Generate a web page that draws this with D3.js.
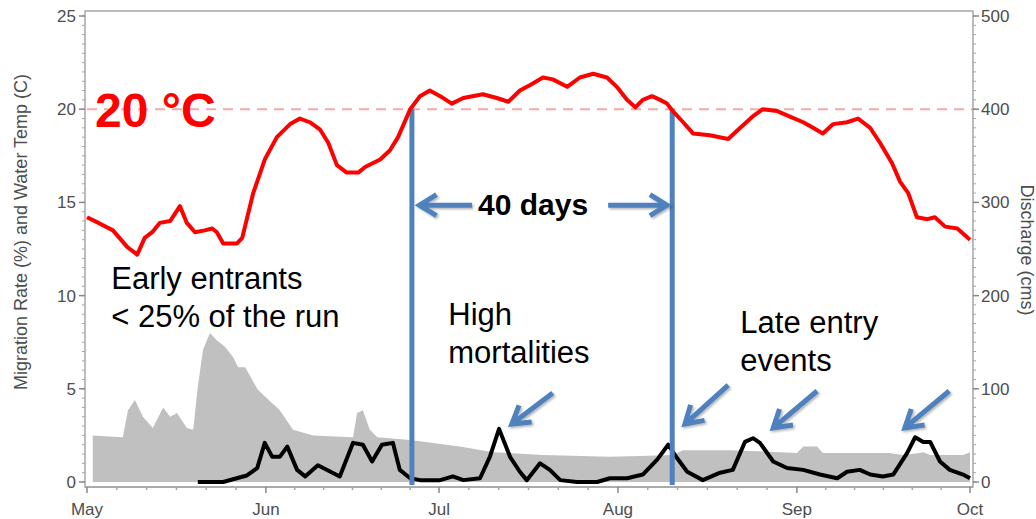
<!DOCTYPE html>
<html>
<head>
<meta charset="utf-8">
<script src="https://cdn.jsdelivr.net/npm/d3@7"></script>
<style>
  html, body { margin: 0; padding: 0; background: #fff; }
  svg { display: block; font-family: "Liberation Sans", Arial, sans-serif; }
</style>
</head>
<body>
<svg id="chart" width="1036" height="519"></svg>
<script>
// Season runs from 1 May to 1 October; days are counted from 1 May.
const seasonStart = Date.UTC(2015, 4, 1);
const seasonEnd = Date.UTC(2015, 9, 1);
const monthLabels = ["May", "Jun", "Jul", "Aug", "Sep", "Oct"];
const leftTicks = [0, 5, 10, 15, 20, 25];
const rightTicks = [0, 100, 200, 300, 400, 500];

// Water temperature (C)
const tempDay = [0,2,4.5,7,8.7,10,11.3,12.6,14.4,16.1,17.3,18.7,20.4,21.7,22.5,23.6,26,26.9,28.8,30.8,32.9,35.2,36.9,38.6,40.4,41.8,43.3,45,47,48.2,50.8,52.5,53.9,56,57.7,59.4,61.2,63.2,65.2,68.6,71,73,75,76.8,79,80.7,83.2,85.4,87.7,90.1,91.8,93.6,95,96.3,97.9,99.3,100.5,101.5,103.3,105,107.9,111.1,113.2,115.3,117.1,119.6,121.8,124.1,125.8,127.5,129.3,131.7,133.6,135.7,137.4,139.5,140.9,142.3,143.8,145.6,146.9,148.7,150.8,153];
const tempC = [14.2,13.9,13.5,12.6,12.2,13.1,13.4,13.9,14.0,14.8,13.9,13.4,13.5,13.6,13.4,12.8,12.8,13.1,15.5,17.3,18.5,19.2,19.5,19.3,18.9,18.2,17.0,16.6,16.6,16.9,17.3,17.8,18.5,20.0,20.7,21.0,20.7,20.3,20.6,20.8,20.6,20.4,21.0,21.3,21.7,21.6,21.2,21.7,21.9,21.7,21.2,20.5,20.1,20.5,20.7,20.5,20.3,19.9,19.3,18.7,18.6,18.4,19.0,19.6,20.0,19.9,19.6,19.3,19.0,18.7,19.2,19.3,19.5,19.0,18.2,17.1,16.1,15.5,14.2,14.1,14.2,13.7,13.6,13.0];

// River discharge (cms)
const flowDay = [1,6.2,7.1,8.3,9.7,11.4,13.2,14.4,15.6,17.3,18.4,19.2,20.1,21.3,22.5,23.9,25.3,26.2,27.4,29.6,33.4,35.7,39.2,46.1,46.8,47.8,49.0,50.3,56.0,64.6,70.4,79.0,90.6,95.8,101.5,103.3,111.4,120.1,123.0,124.1,126.5,127.5,134.5,139.1,141.4,144.3,144.9,146.1,151.8,153];
const flowCms = [50,48,77,88,70,58,80,70,74,58,56,102,142,160,152,145,134,123,123,99,77,56,50,48,74,77,56,48,45,38,32,29,27,28,29,34,34,32,31,38,38,31,31,31,29,31,32,29,29,32];

// Daily migration rate (% of run)
const migDay = [19.2,23.6,25.3,27.7,29.5,30.8,32.1,33.4,34.7,36.4,37.8,40.0,43.8,46.1,47.8,49.4,51.1,53.0,54.2,56.0,57.7,61.2,63.4,65.2,68.1,69.8,71.4,73.3,75.0,76.2,78.5,80.2,82.0,84.9,88.4,90.6,93.6,96.3,98.8,100.7,102.2,104.0,106.7,109.7,111.9,114.0,115.4,116.6,118.9,121.3,124.1,127.0,130.0,131.7,133.9,135.7,137.9,139.7,142.1,143.5,144.9,146.1,147.8,149.5,151.8,153];
const migPct = [0,0,0.15,0.35,0.75,2.1,1.35,1.35,1.9,0.65,0.3,0.9,0.3,2.1,2.0,1.1,2.0,2.1,0.65,0.2,0.1,0.1,0.3,0.1,0.2,1.35,2.85,1.35,0.55,0.1,1.0,0.65,0.1,0,0,0.2,0.2,0.4,1.2,2.0,1.3,0.55,0.1,0.5,0.65,2.15,2.35,2.1,1.1,0.75,0.65,0.4,0.2,0.55,0.65,0.4,0.3,0.4,1.55,2.4,2.15,2.15,1.1,0.65,0.4,0.2];

// Threshold temperature and the window spent above it (day offsets)
const thresholdC = 20;
const warmWindow = [56.3, 101.4];

const dayToDate = d => new Date(seasonStart + d * 864e5);

const svg = d3.select("#chart");
const x = d3.scaleUtc().domain([new Date(seasonStart), new Date(seasonEnd)]).range([87, 970]);
const yL = d3.scaleLinear().domain([0, 25]).range([482, 16]);
const yR = d3.scaleLinear().domain([0, 500]).range([482, 16]);
const X = d => x(dayToDate(d));

const frame = { left: 85, right: 973, top: 11, bottom: 487 };
const axisGrey = "#a6a6a6";
const labelGrey = "#4d4d4d";
const blue = "#4f81bd";

// drop shadow for the blue annotation shapes
const defs = svg.append("defs");
const shadow = defs.append("filter").attr("id", "shadow").attr("x", "-20%").attr("y", "-20%").attr("width", "140%").attr("height", "140%");
shadow.append("feDropShadow").attr("dx", 1.5).attr("dy", 1.5).attr("stdDeviation", 1.2).attr("flood-color", "#000").attr("flood-opacity", 0.3);

// discharge area (right axis)
const flow = d3.zip(flowDay, flowCms);
svg.append("path")
  .datum(flow)
  .attr("fill", "#c0c0c0")
  .attr("d", d3.area().x(d => X(d[0])).y0(yR(0)).y1(d => yR(d[1])));

// 20 C reference line
svg.append("line")
  .attr("x1", frame.left + 2).attr("x2", frame.right)
  .attr("y1", yL(thresholdC)).attr("y2", yL(thresholdC))
  .attr("stroke", "#f8a8a8").attr("stroke-width", 2)
  .attr("stroke-dasharray", "10,7");

// migration rate line
const mig = d3.zip(migDay, migPct);
svg.append("path")
  .datum(mig)
  .attr("fill", "none").attr("stroke", "#000").attr("stroke-width", 4)
  .attr("stroke-linejoin", "round")
  .attr("d", d3.line().x(d => X(d[0])).y(d => yL(d[1])));

// window above threshold
svg.append("g").selectAll("line").data(warmWindow).join("line")
  .attr("x1", d => X(d)).attr("x2", d => X(d))
  .attr("y1", yL(thresholdC)).attr("y2", yL(0) + 3)
  .attr("stroke", blue).attr("stroke-width", 5);

// temperature line
const temp = d3.zip(tempDay, tempC);
svg.append("path")
  .datum(temp)
  .attr("fill", "none").attr("stroke", "#ff0000").attr("stroke-width", 4)
  .attr("stroke-linejoin", "round")
  .attr("d", d3.line().x(d => X(d[0])).y(d => yL(d[1])));

// frame
svg.append("path")
  .attr("fill", "none").attr("stroke", axisGrey).attr("stroke-width", 1.5)
  .attr("d", `M${frame.left},${frame.bottom}V${frame.top}H${frame.right}V${frame.bottom}Z`);

// left axis ticks
const gL = svg.append("g").attr("transform", `translate(${frame.left},0)`);
gL.selectAll(".minor").data(d3.range(0, 25.01, 0.5)).join("line")
  .attr("x1", 0).attr("x2", -3).attr("y1", d => yL(d)).attr("y2", d => yL(d))
  .attr("stroke", axisGrey).attr("stroke-width", 1);
gL.selectAll(".major").data(leftTicks).join("line")
  .attr("x1", 0).attr("x2", -6).attr("y1", d => yL(d)).attr("y2", d => yL(d))
  .attr("stroke", "#888").attr("stroke-width", 1.5);
gL.selectAll("text").data(leftTicks).join("text")
  .attr("x", -9).attr("y", d => yL(d)).attr("dy", "0.35em")
  .attr("text-anchor", "end").attr("font-size", 17).attr("fill", labelGrey)
  .text(d => d);

// right axis ticks
const gR = svg.append("g").attr("transform", `translate(${frame.right},0)`);
gR.selectAll(".minor").data(d3.range(0, 500.1, 10)).join("line")
  .attr("x1", 0).attr("x2", 3).attr("y1", d => yR(d)).attr("y2", d => yR(d))
  .attr("stroke", axisGrey).attr("stroke-width", 1);
gR.selectAll(".major").data(rightTicks).join("line")
  .attr("x1", 0).attr("x2", 6).attr("y1", d => yR(d)).attr("y2", d => yR(d))
  .attr("stroke", "#888").attr("stroke-width", 1.5);
gR.selectAll("text").data(rightTicks).join("text")
  .attr("x", 8).attr("y", d => yR(d)).attr("dy", "0.35em")
  .attr("text-anchor", "start").attr("font-size", 17).attr("fill", labelGrey)
  .text(d => d);

// bottom axis
const months = d3.utcMonth.range(new Date(seasonStart), new Date(seasonEnd + 1));
const minorDates = [];
for (let i = 0; i < months.length - 1; i++) {
  const a = +months[i], b = +months[i + 1];
  for (let k = 1; k < 6; k++) minorDates.push(new Date(a + (b - a) * k / 6));
}
const gB = svg.append("g");
gB.append("line").attr("x1", frame.left).attr("x2", frame.right)
  .attr("y1", frame.bottom).attr("y2", frame.bottom)
  .attr("stroke", axisGrey).attr("stroke-width", 1.5);
gB.selectAll(".minor").data(minorDates).join("line")
  .attr("x1", d => x(d)).attr("x2", d => x(d))
  .attr("y1", frame.bottom).attr("y2", frame.bottom + 3)
  .attr("stroke", axisGrey).attr("stroke-width", 1.5);
gB.selectAll(".major").data(months).join("line")
  .attr("x1", d => x(d)).attr("x2", d => x(d))
  .attr("y1", frame.bottom).attr("y2", frame.bottom + 6)
  .attr("stroke", "#888").attr("stroke-width", 1.5);
gB.selectAll("text").data(months).join("text")
  .attr("x", d => x(d)).attr("y", 515)
  .attr("text-anchor", "middle").attr("font-size", 17).attr("fill", labelGrey)
  .text((d, i) => monthLabels[i]);

// axis titles
svg.append("text")
  .attr("transform", "translate(27,232) rotate(-90)")
  .attr("text-anchor", "middle").attr("font-size", 18).attr("fill", labelGrey)
  .text("Migration Rate (%) and Water Temp (C)");
svg.append("text")
  .attr("transform", "translate(1021,250) rotate(90)")
  .attr("text-anchor", "middle").attr("font-size", 18).attr("fill", labelGrey)
  .text("Discharge (cms)");

// threshold label
const tLabel = svg.append("text")
  .attr("x", X(1.4)).attr("y", yL(19.05))
  .attr("font-size", 48).attr("font-weight", "bold").attr("fill", "#ff0000");
tLabel.append("tspan").text("20 ");
tLabel.append("tspan").text("°C");

// arrows
function arrow(g, t0, t1, head = 20, ang = 0.55) {
  const x0 = X(t0[0]), y0 = yL(t0[1]), x1 = X(t1[0]), y1 = yL(t1[1]);
  const a = Math.atan2(y0 - y1, x0 - x1);
  const p1 = [x1 + head * Math.cos(a + ang), y1 + head * Math.sin(a + ang)];
  const p2 = [x1 + head * Math.cos(a - ang), y1 + head * Math.sin(a - ang)];
  g.append("path")
    .attr("d", `M${x0},${y0}L${x1},${y1}M${p1[0]},${p1[1]}L${x1},${y1}L${p2[0]},${p2[1]}`)
    .attr("fill", "none").attr("stroke", blue).attr("stroke-width", 5)
    .attr("stroke-linejoin", "miter").attr("filter", "url(#shadow)");
}
const ga = svg.append("g");
arrow(ga, [66.7, 14.85], [57.6, 14.85]);
arrow(ga, [90.3, 14.85], [100.5, 14.85]);
arrow(ga, [80.7, 4.77], [73.6, 3.11]);
arrow(ga, [111.1, 5.2], [103.6, 3.11]);
arrow(ga, [126.5, 4.88], [118.9, 2.9]);
arrow(ga, [149.4, 4.88], [141.7, 2.9]);

// "40 days" label
svg.append("text")
  .attr("x", X(77.3)).attr("y", yL(14.35))
  .attr("text-anchor", "middle").attr("font-size", 30).attr("font-weight", "bold").attr("fill", "#000")
  .text("40 days");

// text annotations
const notes = [
  { day: 4.2, v: 10.35, lines: ["Early entrants", "< 25% of the run"] },
  { day: 62.6, v: 8.4, lines: ["High", "mortalities"] },
  { day: 113.2, v: 8.0, lines: ["Late entry", "events"] }
];
notes.forEach(n => {
  const t = svg.append("text")
    .attr("x", X(n.day)).attr("y", yL(n.v))
    .attr("font-size", 31).attr("fill", "#000");
  n.lines.forEach((s, i) => {
    t.append("tspan").attr("x", X(n.day)).attr("dy", i === 0 ? 0 : 38).text(s);
  });
});
</script>
</body>
</html>
